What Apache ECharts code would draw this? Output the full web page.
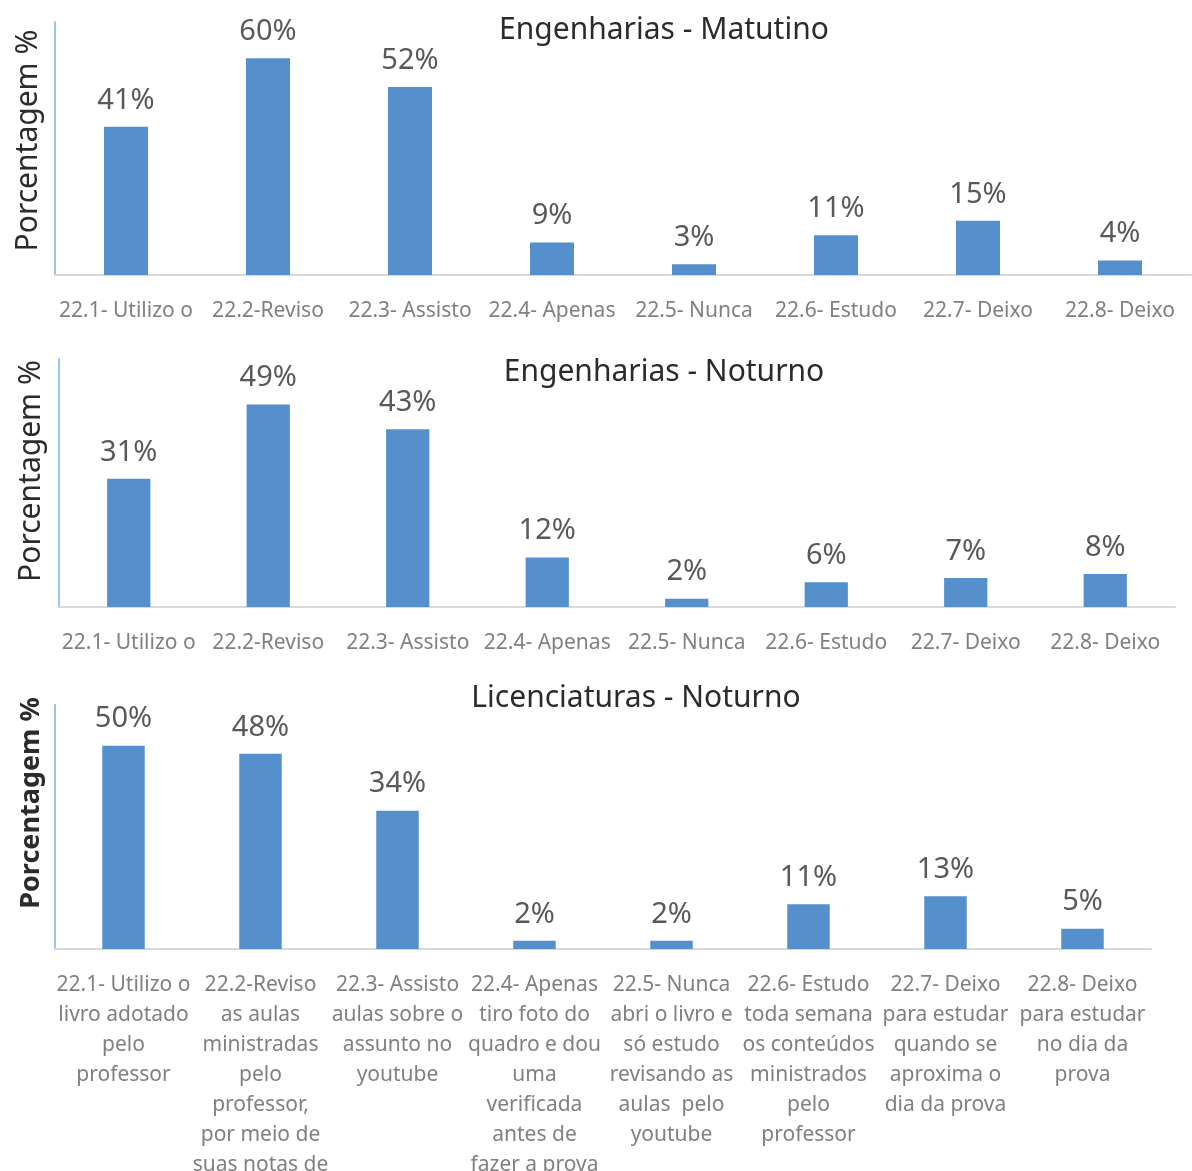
<!DOCTYPE html>
<html>
<head>
<meta charset="utf-8">
<script src="https://cdn.jsdelivr.net/npm/echarts@6/dist/echarts.min.js"></script>
<style>
  html, body { margin: 0; padding: 0; background: #fff; }
  #chart { width: 1192px; height: 1171px; }
</style>
</head>
<body>
<div id="chart"></div>
<script>
// category labels (full text, lines split by \n)
const categories = [
  "22.1- Utilizo o\nlivro adotado\npelo\nprofessor",
  "22.2-Reviso\nas aulas\nministradas\npelo\nprofessor,\npor meio de\nsuas notas de",
  "22.3- Assisto\naulas sobre o\nassunto no\nyoutube",
  "22.4- Apenas\ntiro foto do\nquadro e dou\numa\nverificada\nantes de\nfazer a prova",
  "22.5- Nunca\nabri o livro e\nsó estudo\nrevisando as\naulas  pelo\nyoutube",
  "22.6- Estudo\ntoda semana\nos conteúdos\nministrados\npelo\nprofessor",
  "22.7- Deixo\npara estudar\nquando se\naproxima o\ndia da prova",
  "22.8- Deixo\npara estudar\nno dia da\nprova"
]
const titles = ["Engenharias - Matutino", "Engenharias - Noturno", "Licenciaturas - Noturno"]
const engMatutino = [41, 60, 52, 9, 3, 11, 15, 4]
const engNoturno = [31, 49, 43, 12, 2, 6, 7, 8]
const licNoturno = [50, 48, 34, 2, 2, 11, 13, 5]
const yMax = [70, 60, 60]

const FONT = "Noto Sans"
const BAR_COLOR = "#5590cc"

const grids = [
  { left: 55, top: 22, width: 1136, height: 253, outerBoundsMode: "none" },
  { left: 59, top: 359, width: 1116, height: 248, outerBoundsMode: "none" },
  { left: 55, top: 705, width: 1096, height: 244, outerBoundsMode: "none" },
]
const titlePos = [
  { left: 664, top: 15 },
  { left: 664, top: 357 },
  { left: 636, top: 683 },
]
const namePad = [[0, 0, 0, 16], [0, 0, 0, 24], [0, 0, 0, 48]]
const nameGap = [12, 13, 10]
const labelMargin = [21, 21, 21]

const chart = echarts.init(document.getElementById("chart"))

const option = {
  backgroundColor: "#fff",
  animation: false,
  title: titles.map((t, i) => ({
    text: t,
    left: titlePos[i].left,
    top: titlePos[i].top,
    textAlign: "center",
    padding: 0,
    textStyle: {
      fontFamily: FONT,
      fontSize: 30,
      fontWeight: "normal",
      color: "#2b2b2b",
    },
  })),
  grid: grids,
  xAxis: grids.map((g, i) => ({
    type: "category",
    gridIndex: i,
    data: categories,
    axisLine: { lineStyle: { color: "#d9d9d9", width: 2 } },
    axisTick: { show: false },
    axisLabel: {
      interval: 0,
      margin: labelMargin[i],
      fontFamily: FONT,
      fontSize: 21,
      lineHeight: 30,
      color: "#808080",
      formatter: i < 2 ? (v) => v.split("\n")[0] : (v) => v,
    },
  })),
  yAxis: grids.map((g, i) => ({
    type: "value",
    gridIndex: i,
    min: 0,
    max: yMax[i],
    name: "Porcentagem %",
    nameLocation: "middle",
    nameGap: nameGap[i],
    nameTextStyle: {
      fontFamily: FONT,
      fontSize: i === 2 ? 27 : 30,
      fontWeight: i === 2 ? "bold" : "normal",
      color: "#2b2b2b",
      padding: namePad[i],
    },
    axisLine: { show: true, lineStyle: { color: "#9dc3e6", width: 2 } },
    axisTick: { show: false },
    axisLabel: { show: false },
    splitLine: { show: false },
  })),
  series: [engMatutino, engNoturno, licNoturno].map((d, i) => ({
    type: "bar",
    xAxisIndex: i,
    yAxisIndex: i,
    data: d,
    barWidth: "31%",
    itemStyle: { color: BAR_COLOR },
    label: {
      show: true,
      position: "top",
      distance: 12,
      formatter: "{c}%",
      fontFamily: FONT,
      fontSize: 29,
      color: "#595959",
    },
  })),
}

chart.setOption(option)
</script>
</body>
</html>
